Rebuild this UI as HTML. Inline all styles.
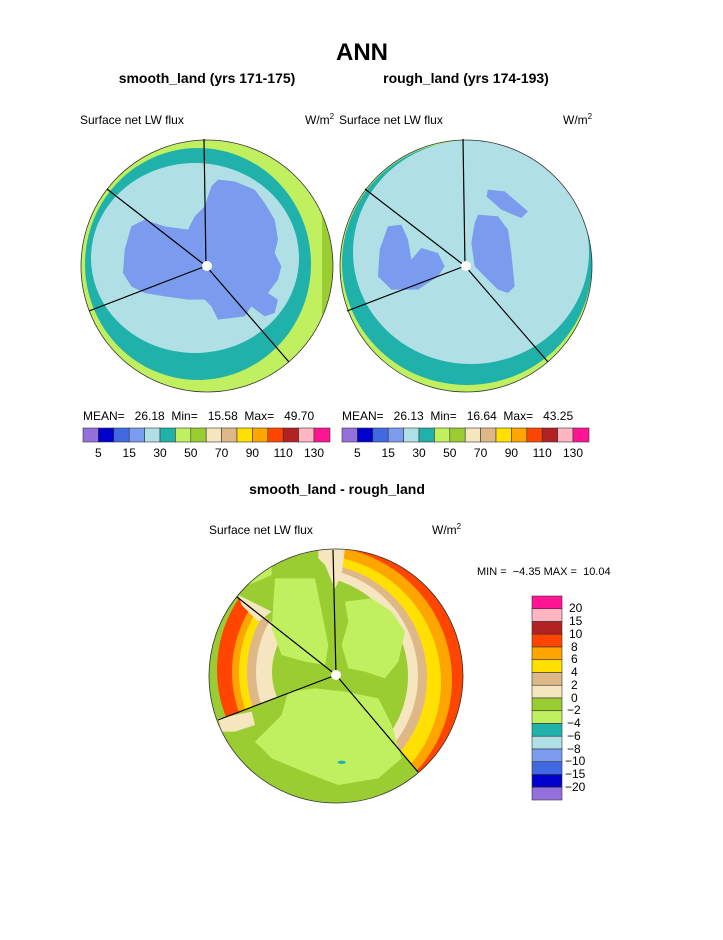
<!DOCTYPE html>
<html><head><meta charset="utf-8"><style>
body{margin:0;background:#fff;}
text{font-family:"Liberation Sans",Arial,sans-serif;white-space:pre;}
</style></head><body>
<svg width="723" height="935" viewBox="0 0 723 935" xmlns="http://www.w3.org/2000/svg" xml:space="preserve">
<defs>
<clipPath id="c1"><circle cx="207" cy="266" r="126"/></clipPath>
<clipPath id="c2"><circle cx="466" cy="266" r="126"/></clipPath>
<clipPath id="c3"><circle cx="336" cy="676" r="127"/></clipPath>
<clipPath id="wR"><polygon points="336,675 333,540 480,540 480,820 425,780"/></clipPath>
<clipPath id="wL"><polygon points="336,675 232,590 200,590 200,730 215,722"/></clipPath>
</defs>
<text x="362" y="60" font-size="24" font-weight="bold" text-anchor="middle">ANN</text>
<text x="207" y="83" font-size="14" font-weight="bold" text-anchor="middle">smooth_land (yrs 171-175)</text>
<text x="466" y="83" font-size="14" font-weight="bold" text-anchor="middle">rough_land (yrs 174-193)</text>
<text x="80" y="124" font-size="12">Surface net LW flux</text>
<text x="305" y="124" font-size="12">W/m<tspan font-size="8" dy="-5">2</tspan></text>
<text x="339" y="124" font-size="12">Surface net LW flux</text>
<text x="563" y="124" font-size="12">W/m<tspan font-size="8" dy="-5">2</tspan></text>

<!-- left map -->
<g clip-path="url(#c1)">
<rect x="70" y="130" width="280" height="280" fill="#C0F060"/>
<rect x="322" y="130" width="20" height="280" fill="#9ACD32"/>
<ellipse cx="198" cy="264" rx="113" ry="116" fill="#20B2AA"/>
<ellipse cx="195" cy="258" rx="104" ry="95" fill="#B0E0E6"/>
<g transform="translate(78,133) scale(0.33333)">
<path fill="#7B9BEE" d="M420,140 L470,145 530,170 560,210 590,260 600,320 590,360 610,400 600,440 570,480 600,500 590,540 560,550 520,520 500,550 420,560 400,520 380,500 330,500 260,490 200,480 160,460 135,420 140,350 160,280 200,260 260,280 330,290 350,250 380,220 400,160Z"/>
</g>
</g>
<circle cx="207" cy="266" r="126" fill="none" stroke="#333" stroke-width="0.8"/>
<g stroke="#000" stroke-width="1.2">
<line x1="206" y1="266" x2="204" y2="139"/><line x1="206" y1="266" x2="107" y2="189"/>
<line x1="206" y1="266" x2="89" y2="311"/><line x1="206" y1="266" x2="289" y2="362"/></g>
<circle cx="207" cy="266" r="5" fill="#fff"/>

<!-- right map -->
<g clip-path="url(#c2)">
<rect x="330" y="130" width="280" height="280" fill="#C0F060"/>
<ellipse cx="467" cy="263" rx="125" ry="122" fill="#20B2AA"/>
<ellipse cx="471" cy="252" rx="118" ry="112" fill="#B0E0E6"/>
<g transform="translate(78,133) scale(0.33333)" fill="#7B9BEE">
<path d="M1230,170 L1280,175 1350,235 1330,255 1270,230 1225,190Z"/>
<path d="M1200,245 L1260,250 1290,290 1300,360 1310,460 1290,480 1260,470 1220,430 1190,400 1180,330 1190,270Z"/>
<path d="M930,280 L970,275 990,320 1000,380 1030,345 1080,360 1100,400 1080,430 1020,470 940,470 900,430 905,350Z"/>
</g>
</g>
<circle cx="466" cy="266" r="126" fill="none" stroke="#333" stroke-width="0.8"/>
<g stroke="#000" stroke-width="1.2">
<line x1="465" y1="266" x2="463" y2="139"/><line x1="465" y1="266" x2="365" y2="189"/>
<line x1="465" y1="266" x2="347" y2="311"/><line x1="465" y1="266" x2="548" y2="362"/></g>
<circle cx="466" cy="266" r="5" fill="#fff"/>

<!-- colorbars top -->
<g font-size="12">
<text x="83" y="420" xml:space="preserve">MEAN=   26.18  Min=   15.58  Max=   49.70</text>
<text x="342" y="420" xml:space="preserve">MEAN=   26.13  Min=   16.64  Max=   43.25</text>
</g>
<g stroke="#333" stroke-width="0.6">
<rect x="83" y="428" width="15.4" height="14" fill="#9370DB"/><rect x="98.4" y="428" width="15.4" height="14" fill="#0000CD"/><rect x="113.8" y="428" width="15.4" height="14" fill="#4169E1"/><rect x="129.2" y="428" width="15.4" height="14" fill="#7B9BEE"/><rect x="144.6" y="428" width="15.4" height="14" fill="#B0E0E6"/><rect x="160" y="428" width="15.4" height="14" fill="#20B2AA"/><rect x="175.4" y="428" width="15.4" height="14" fill="#C0F060"/><rect x="190.8" y="428" width="15.4" height="14" fill="#9ACD32"/><rect x="206.2" y="428" width="15.4" height="14" fill="#F5E6C0"/><rect x="221.6" y="428" width="15.4" height="14" fill="#DEB887"/><rect x="237" y="428" width="15.4" height="14" fill="#FFE000"/><rect x="252.4" y="428" width="15.4" height="14" fill="#FFA500"/><rect x="267.8" y="428" width="15.4" height="14" fill="#FF4500"/><rect x="283.2" y="428" width="15.4" height="14" fill="#B22222"/><rect x="298.6" y="428" width="15.4" height="14" fill="#FFB6C1"/><rect x="314" y="428" width="16" height="14" fill="#FF1493"/>
</g>
<g stroke="#333" stroke-width="0.6" transform="translate(259,0)">
<rect x="83" y="428" width="15.4" height="14" fill="#9370DB"/><rect x="98.4" y="428" width="15.4" height="14" fill="#0000CD"/><rect x="113.8" y="428" width="15.4" height="14" fill="#4169E1"/><rect x="129.2" y="428" width="15.4" height="14" fill="#7B9BEE"/><rect x="144.6" y="428" width="15.4" height="14" fill="#B0E0E6"/><rect x="160" y="428" width="15.4" height="14" fill="#20B2AA"/><rect x="175.4" y="428" width="15.4" height="14" fill="#C0F060"/><rect x="190.8" y="428" width="15.4" height="14" fill="#9ACD32"/><rect x="206.2" y="428" width="15.4" height="14" fill="#F5E6C0"/><rect x="221.6" y="428" width="15.4" height="14" fill="#DEB887"/><rect x="237" y="428" width="15.4" height="14" fill="#FFE000"/><rect x="252.4" y="428" width="15.4" height="14" fill="#FFA500"/><rect x="267.8" y="428" width="15.4" height="14" fill="#FF4500"/><rect x="283.2" y="428" width="15.4" height="14" fill="#B22222"/><rect x="298.6" y="428" width="15.4" height="14" fill="#FFB6C1"/><rect x="314" y="428" width="16" height="14" fill="#FF1493"/>
</g>
<g font-size="12" text-anchor="middle">
<text x="98.4" y="457">5</text><text x="129.2" y="457">15</text><text x="160" y="457">30</text><text x="190.8" y="457">50</text><text x="221.6" y="457">70</text><text x="252.4" y="457">90</text><text x="283.2" y="457">110</text><text x="314" y="457">130</text>
<text x="357.4" y="457">5</text><text x="388.2" y="457">15</text><text x="419" y="457">30</text><text x="449.8" y="457">50</text><text x="480.6" y="457">70</text><text x="511.4" y="457">90</text><text x="542.2" y="457">110</text><text x="573" y="457">130</text>
</g>

<!-- bottom -->
<text x="337" y="494" font-size="14" font-weight="bold" text-anchor="middle">smooth_land - rough_land</text>
<text x="209" y="534" font-size="12">Surface net LW flux</text>
<text x="432" y="534" font-size="12">W/m<tspan font-size="8" dy="-5">2</tspan></text>
<text x="477" y="575" font-size="11" xml:space="preserve">MIN =  −4.35 MAX =  10.04</text>

<g clip-path="url(#c3)">
<rect x="200" y="540" width="280" height="280" fill="#9ACD32"/>
<g clip-path="url(#wR)">
<circle cx="318" cy="672" r="160" fill="#B22222"/>
<circle cx="322" cy="680" r="148" fill="#FF4500"/>
<circle cx="318" cy="680" r="134" fill="#FFA500"/>
<circle cx="314" cy="682" r="127" fill="#FFE000"/>
<circle cx="312" cy="678" r="115" fill="#DEB887"/>
<circle cx="310" cy="676" r="108" fill="#F5E6C0"/>
<circle cx="308" cy="676" r="100" fill="#9ACD32"/>
</g>
<g clip-path="url(#wL)">
<circle cx="345" cy="670" r="128" fill="#FF4500"/>
<circle cx="352" cy="672" r="120" fill="#FFA500"/>
<circle cx="354" cy="672" r="115" fill="#FFE000"/>
<circle cx="357" cy="672" r="110" fill="#DEB887"/>
<circle cx="360" cy="672" r="104" fill="#F5E6C0"/>
<circle cx="340" cy="672" r="68" fill="#9ACD32"/>
</g>
<g transform="translate(205,545) scale(0.33333)">
<path fill="#F5E6C0" d="M340,10 L385,10 385,120 360,60 340,40Z"/>
<path fill="#F5E6C0" d="M385,10 L420,10 410,90 385,140Z"/>
<path fill="#F5E6C0" d="M100,150 L200,200 160,230 110,180Z"/>
<path fill="#F5E6C0" d="M40,520 L140,500 150,540 90,560 50,560Z"/>
<path fill="#C0F060" d="M210,100 L330,100 350,200 370,300 360,360 300,350 230,330 200,250Z"/>
<path fill="#C0F060" d="M420,170 L500,160 560,200 600,260 580,350 540,400 480,380 430,370 410,300 430,230Z"/>
<path fill="#C0F060" d="M250,440 L330,430 420,440 520,460 560,540 590,640 520,700 400,720 320,690 200,640 150,590 230,510Z"/>
<path fill="#C0F060" d="M120,60 L200,30 200,90 130,120Z"/>
<ellipse cx="410" cy="652" rx="12" ry="5" fill="#20B2AA"/>
</g>
</g>
<circle cx="336" cy="676" r="127" fill="none" stroke="#333" stroke-width="0.8"/>
<g stroke="#000" stroke-width="1.2">
<line x1="336" y1="675" x2="333" y2="550"/><line x1="336" y1="675" x2="237" y2="597"/>
<line x1="336" y1="675" x2="218" y2="720"/><line x1="336" y1="675" x2="418" y2="772"/></g>
<circle cx="336" cy="675" r="5" fill="#fff"/>

<g stroke="#333" stroke-width="0.6">
<rect x="532" y="596" width="30" height="12.75" fill="#FF1493"/><rect x="532" y="608.75" width="30" height="12.75" fill="#FFB6C1"/><rect x="532" y="621.5" width="30" height="12.75" fill="#B22222"/><rect x="532" y="634.25" width="30" height="12.75" fill="#FF4500"/><rect x="532" y="647" width="30" height="12.75" fill="#FFA500"/><rect x="532" y="659.75" width="30" height="12.75" fill="#FFE000"/><rect x="532" y="672.5" width="30" height="12.75" fill="#DEB887"/><rect x="532" y="685.25" width="30" height="12.75" fill="#F5E6C0"/><rect x="532" y="698" width="30" height="12.75" fill="#9ACD32"/><rect x="532" y="710.75" width="30" height="12.75" fill="#C0F060"/><rect x="532" y="723.5" width="30" height="12.75" fill="#20B2AA"/><rect x="532" y="736.25" width="30" height="12.75" fill="#B0E0E6"/><rect x="532" y="749" width="30" height="12.75" fill="#7B9BEE"/><rect x="532" y="761.75" width="30" height="12.75" fill="#4169E1"/><rect x="532" y="774.5" width="30" height="12.75" fill="#0000CD"/><rect x="532" y="787.25" width="30" height="12.75" fill="#9370DB"/>
</g>
<g font-size="12">
<text x="569" y="612">20</text><text x="569" y="625">15</text><text x="569" y="638">10</text><text x="571" y="651">8</text><text x="571" y="663">6</text><text x="571" y="676">4</text><text x="571" y="689">2</text><text x="571" y="702">0</text><text x="567" y="714">−2</text><text x="567" y="727">−4</text><text x="567" y="740">−6</text><text x="567" y="753">−8</text><text x="565" y="765">−10</text><text x="565" y="778">−15</text><text x="565" y="791">−20</text>
</g>
</svg>
</body></html>
